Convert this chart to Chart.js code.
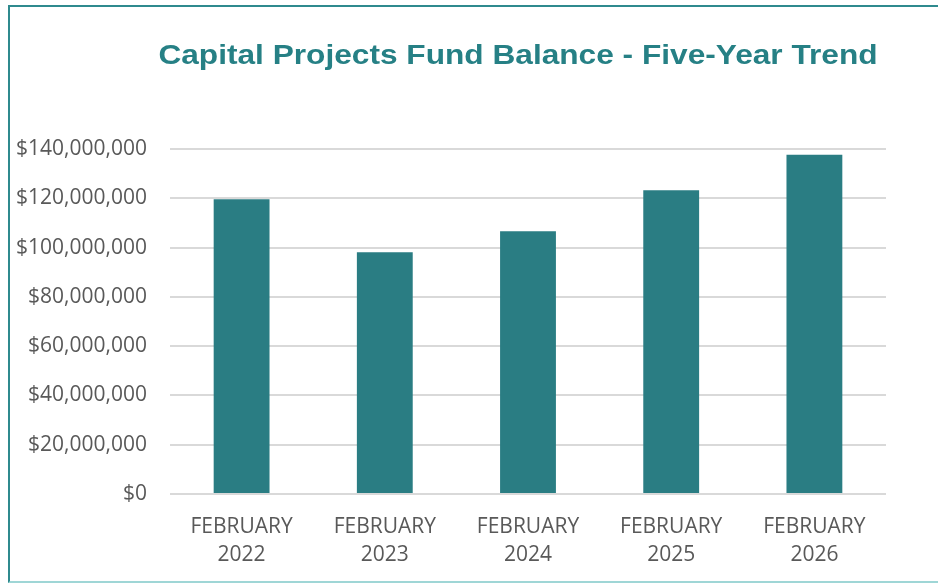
<!DOCTYPE html>
<html>
<head>
<meta charset="utf-8">
<title>Capital Projects Fund Balance</title>
<script src="https://cdn.jsdelivr.net/npm/chart.js@4"></script>
<style>
    html, body { margin: 0; padding: 0; background: #fff; }
    #wrap { position: relative; width: 938px; height: 583px; overflow: hidden; }
    #frame {
        position: absolute; left: 8px; top: 5px; width: 940px; height: 574px;
        border-left: 2px solid #2f8a8e; border-top: 2px solid #2f8a8e;
        border-bottom: 2px solid #9fd6d6;
    }
    canvas { position: absolute; left: 0; top: 0; }
</style>
</head>
<body>
<div id="wrap">
    <div id="frame"></div>
    <canvas id="fundChart" width="938" height="583"></canvas>
</div>
<script>
// values (dollars)
const categories = [['FEBRUARY', '2022'], ['FEBRUARY', '2023'], ['FEBRUARY', '2024'], ['FEBRUARY', '2025'], ['FEBRUARY', '2026']];
const fundBalance = [119600000, 98100000, 106600000, 123300000, 137700000];
const yTicks = [0, 20000000, 40000000, 60000000, 80000000, 100000000, 120000000, 140000000];
const chartTitle = 'Capital Projects Fund Balance - Five-Year Trend';

const teal = '#2a7d83';
const labelGray = '#595959';
const gridGray = '#d9d9d9';

// title sits off-centre in the original, and its type is a bit stretched sideways
const offsetTitle = {
    id: 'offsetTitle',
    afterDraw(chart) {
        const c = chart.ctx;
        c.save();
        c.font = 'bold 28px "Liberation Sans"';
        c.fillStyle = '#268085';
        c.textAlign = 'center';
        c.textBaseline = 'alphabetic';
        c.translate(518, 64);
        c.scale(1.13, 1);
        c.fillText(chartTitle, 0, 0);
        c.restore();
    }
};

const ctx = document.getElementById('fundChart').getContext('2d');
new Chart(ctx, {
    type: 'bar',
    data: {
        labels: categories,
        datasets: [{
            label: 'Fund Balance',
            data: fundBalance,
            backgroundColor: teal,
            categoryPercentage: 1,
            barPercentage: 0.39
        }]
    },
    plugins: [offsetTitle],
    options: {
        responsive: false,
        animation: false,
        layout: { padding: { left: 0, right: 52, top: 149, bottom: 0 } },
        plugins: {
            legend: { display: false },
            tooltip: { enabled: false },
            title: { display: false }
        },
        scales: {
            x: {
                grid: { display: false },
                border: { display: false },
                ticks: {
                    color: labelGray,
                    font: { family: 'Open Sans', size: 21, lineHeight: 1.34 },
                    padding: 11,
                    maxRotation: 0
                },
                afterFit: (scale) => { scale.height = 89; }
            },
            y: {
                min: 0,
                max: 140000000,
                afterBuildTicks: (scale) => { scale.ticks = yTicks.map(v => ({ value: v })); },
                afterFit: (scale) => { scale.width = 170; },
                grid: { color: gridGray, lineWidth: 2, drawTicks: false },
                border: { display: false },
                ticks: {
                    color: labelGray,
                    font: { family: 'Open Sans', size: 21 },
                    padding: 23,
                    callback: (v) => '$' + v.toLocaleString('en-US')
                }
            }
        }
    }
});
</script>
</body>
</html>
